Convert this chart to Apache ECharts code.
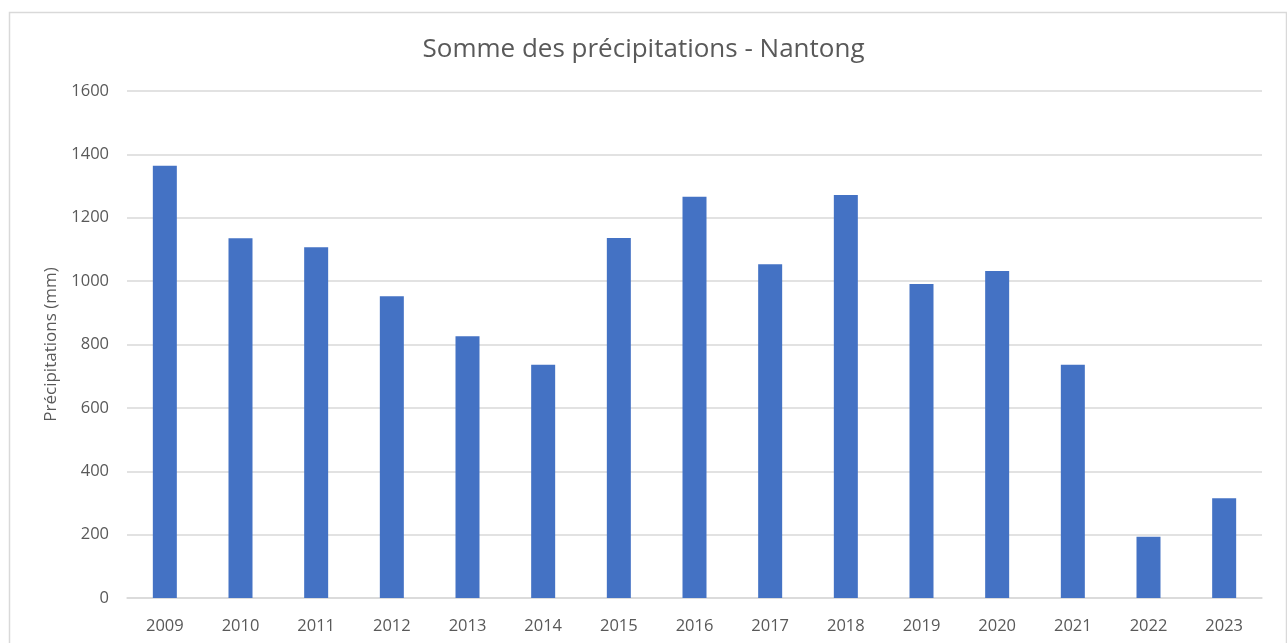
<!DOCTYPE html>
<html>
<head>
<meta charset="utf-8">
<script src="https://cdn.jsdelivr.net/npm/echarts@6/dist/echarts.min.js"></script>
<style>html,body{margin:0;padding:0;background:#fff;}#c{width:1287px;height:643px;}</style>
</head>
<body>
<div id="c"></div>
<script>
const years = ['2009','2010','2011','2012','2013','2014','2015','2016','2017','2018','2019','2020','2021','2022','2023'];
const precip = [1364, 1135, 1107, 952, 826, 736, 1136, 1266, 1053, 1272, 991, 1032, 736, 193, 315];
const titleText = 'Somme des précipitations - Nantong';
const yAxisName = 'Précipitations (mm)';

const chart = echarts.init(document.getElementById('c'));
const font = '"Open Sans", "Noto Sans", sans-serif';
chart.setOption({
  animation: false,
  backgroundColor: '#fff',
  graphic: [{
    type: 'rect', left: 7, top: 10,
    shape: { width: 1277, height: 640 },
    style: { fill: 'none', stroke: '#d9d9d9', lineWidth: 1.5 },
    silent: true
  }],
  title: {
    text: titleText, left: 'center', top: 32,
    textStyle: { fontFamily: font, fontSize: 26, fontWeight: 'normal', color: '#595959' }
  },
  grid: { left: 127, right: 25, top: 91, bottom: 45 },
  xAxis: {
    type: 'category', data: years,
    axisLine: { show: true, lineStyle: { color: '#d9d9d9', width: 1.5 } },
    axisTick: { show: false },
    axisLabel: { color: '#595959', fontSize: 16.5, fontFamily: font, margin: 20 }
  },
  yAxis: {
    type: 'value', min: 0, max: 1600, interval: 200,
    name: yAxisName, nameLocation: 'middle', nameGap: 67, nameRotate: 90,
    nameTextStyle: { color: '#595959', fontSize: 17, fontFamily: font },
    axisLine: { show: false }, axisTick: { show: false },
    axisLabel: { color: '#595959', fontSize: 16.5, fontFamily: font, margin: 18, formatter: v => String(v) },
    splitLine: { lineStyle: { color: '#d9d9d9', width: 1.5 } }
  },
  series: [{
    type: 'bar', data: precip, barWidth: 24,
    itemStyle: { color: '#4472C4' }
  }]
});
</script>
</body>
</html>
